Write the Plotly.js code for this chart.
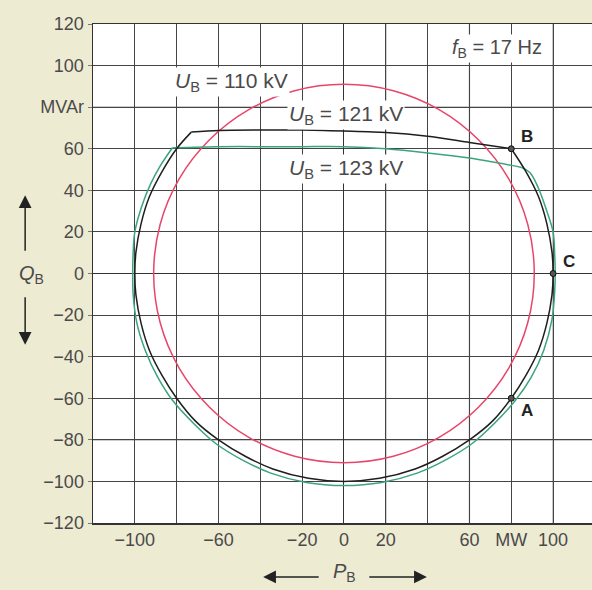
<!DOCTYPE html>
<html>
<head>
<meta charset="utf-8">
<script src="https://cdn.plot.ly/plotly-3.0.1.min.js"></script>
<style>html,body{margin:0;padding:0;background:#eeebd3;}</style>
</head>
<body>
<div id="chart" style="width:592px;height:590px;"></div>
<script>
// 110 kV (red) - closed curve
const p110 = [91,87.9,78.8,64.3,45.5,23.6,0,-23.6,-45.5,-64.3,-78.8,-87.9,-91,-87.9,-78.8,-64.3,-45.5,-23.6,0,23.6,45.5,64.3,78.8,87.9,91];
const q110 = [0,23.6,45.5,64.3,78.8,87.9,91,87.9,78.8,64.3,45.5,23.6,0,-23.6,-45.5,-64.3,-78.8,-87.9,-91,-87.9,-78.8,-64.3,-45.5,-23.6,0];
// 121 kV (black): upper limit segment and arc
const p121Top = [-73,-60,-40,-20,0,20,40,60,80];
const q121Top = [68,68.8,69,69,68.5,67.8,66,63,60];
const p121Arc = [80,87,93,97,99.5,100,99.5,97,93,87,80,71,60,47,34,17,0,-17,-34,-47,-60,-71,-80,-87,-93,-97,-99.5,-100,-99.5,-97,-93,-87,-80,-73];
const q121Arc = [60,49,37,24,10,0,-10,-24,-37,-49,-60,-71,-80,-88,-94,-98.5,-100,-98.5,-94,-88,-80,-71,-60,-49,-37,-24,-10,0,10,24,37,49,60,68];
// 123 kV (green): upper limit segment and arc
const p123Top = [-82,-60,-40,-20,0,20,40,60,80,85];
const q123Top = [60.5,61,61,61,61,60,58,55.5,52,51];
const p123Arc = [85,89,93,97,100,100.8,101,100.8,99.5,95.5,89.5,82,72,61,48,35,18,0,-18,-35,-48,-61,-72,-82,-89,-95,-99,-100.8,-101,-100.8,-100,-96.8,-92.5,-87.7,-82];
const q123Arc = [51,48.5,41,30,20,8,0,-8,-22,-37,-50,-61,-72,-82,-90,-96,-100.5,-102,-100.5,-96,-90,-82,-72,-61,-50,-37,-24,-10,0,10,20,32,43,52,60.5];
// operating points
const ptNames = ['A','B','C'];
const ptP = [80,80,100];
const ptQ = [-60,60,0];
// tick labels
const xTickVals = [-100,-80,-60,-40,-20,0,20,40,60,80,100];
const xTickText = ['\u2212100','','\u221260','','\u221220','0','20','','60','MW','100'];
const yTickVals = [-120,-100,-80,-60,-40,-20,0,20,40,60,80,100,120];
const yTickText = ['\u2212120','\u2212100','\u221280','\u221260','\u221240','\u221220','0','20','40','60','MVAr','100','120'];
// lighter printed grid lines
const lightGridX = [20,60,100];
const lightGridY = [80,-80];

const lineTrace = (x,y,color,w,sm) => ({x:x,y:y,mode:'lines',type:'scatter',line:{color:color,width:w,shape:'spline',smoothing:sm},hoverinfo:'skip'});
const RED='#e8456a', GREEN='#3aa57a', BLACK='#1e1e1e';
const traces = [
  lineTrace(p110,q110,RED,1.5,1.0),
  lineTrace(p123Top,q123Top,GREEN,1.5,0.8),
  lineTrace(p123Arc,q123Arc,GREEN,1.5,1.0),
  lineTrace(p121Top,q121Top,BLACK,1.5,0.8),
  lineTrace(p121Arc,q121Arc,BLACK,1.5,1.0),
  {x:ptP,y:ptQ,mode:'markers',type:'scatter',marker:{size:6,color:'#555',line:{color:'#111',width:1}},hoverinfo:'skip'}
];

const shapes = [];
lightGridX.forEach(v=>shapes.push({type:'line',xref:'x',yref:'paper',x0:v,x1:v,y0:0,y1:1,layer:'between',line:{color:'#9a9a9a',width:1.3}}));
lightGridY.forEach(v=>shapes.push({type:'line',xref:'paper',yref:'y',x0:0,x1:1,y0:v,y1:v,layer:'between',line:{color:'#9a9a9a',width:1.3}}));

const txt = '#4a4a4a';
const FAM = 'Liberation Sans, Arial, sans-serif';
const lblFont = {family:FAM,size:21,color:txt};
const arrowCfg = {xref:'paper',yref:'paper',text:'',showarrow:true,arrowhead:2,arrowsize:1.7,arrowwidth:1.5,arrowcolor:'#222'};
const annotations = [
  {x:-54,y:92.3,xref:'x',yref:'y',text:'<i>U</i><sub>B</sub> = 110 kV',showarrow:false,font:lblFont,bgcolor:'#ffffff'},
  {x:1,y:76.4,xref:'x',yref:'y',text:'<i>U</i><sub>B</sub> = 121 kV',showarrow:false,font:lblFont,bgcolor:'#ffffff'},
  {x:1,y:50.5,xref:'x',yref:'y',text:'<i>U</i><sub>B</sub> = 123 kV',showarrow:false,font:lblFont,bgcolor:'#ffffff'},
  {x:73,y:108,xref:'x',yref:'y',text:'<i>f</i><sub>B</sub> = 17 Hz',showarrow:false,font:{family:FAM,size:20,color:txt},bgcolor:'#ffffff'},
  {x:-0.152,y:0.497,xref:'paper',yref:'paper',text:'<i>Q</i><sub>B</sub>',showarrow:false,font:{family:FAM,size:20,color:txt}},
  Object.assign({x:-0.136,y:0.657,ax:0,ay:57},arrowCfg),
  Object.assign({x:-0.136,y:0.357,ax:0,ay:-49},arrowCfg),
  {x:0.505,y:-0.128,xref:'paper',yref:'paper',text:'<i>P</i><sub>B</sub>',showarrow:false,font:{family:FAM,size:20,color:txt}},
  Object.assign({x:0.341,y:-0.108,ax:57,ay:0},arrowCfg),
  Object.assign({x:0.669,y:-0.108,ax:-59,ay:0},arrowCfg)
];
const ptOffX = [8,8,8];
const ptOffY = [-12,12,12];
ptNames.forEach((n,i)=>annotations.push({x:ptP[i],y:ptQ[i],xref:'x',yref:'y',text:'<b>'+n+'</b>',showarrow:false,
  xanchor:'left',xshift:ptOffX[i],yshift:ptOffY[i],font:{family:FAM,size:17,color:'#222'}}));

const axisCommon = {tickmode:'array',showgrid:true,gridcolor:'#444',gridwidth:1,zeroline:true,zerolinecolor:'#333',zerolinewidth:1,
  showline:true,linecolor:'#333',linewidth:1.5,tickfont:{family:FAM,size:18,color:txt},fixedrange:true};
const layout = {
  width:592,height:590,
  margin:{l:93,r:0,t:24,b:67},
  paper_bgcolor:'#eeebd3',plot_bgcolor:'#ffffff',
  showlegend:false,
  xaxis:Object.assign({},axisCommon,{range:[-120,118.6],tickvals:xTickVals,ticktext:xTickText,mirror:true,ticks:''}),
  yaxis:Object.assign({},axisCommon,{range:[-120,120],tickvals:yTickVals,ticktext:yTickText,ticks:'outside',ticklen:4,tickcolor:'#777'}),
  shapes:shapes,
  annotations:annotations
};
Plotly.newPlot('chart',traces,layout,{displayModeBar:false,staticPlot:true});
</script>
</body>
</html>
